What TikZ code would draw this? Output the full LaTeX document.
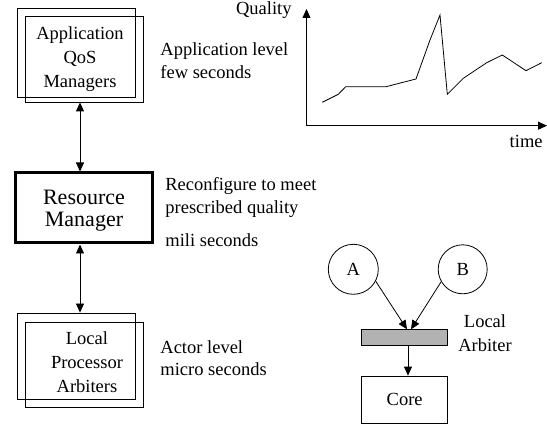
\documentclass[tikz,border=0pt]{standalone}
\usepackage{fontspec}
\setmainfont{Liberation Serif}
\usetikzlibrary{arrows.meta,calc}

\begin{document}
\begin{tikzpicture}[x=1pt,y=-1pt,line width=0.8pt,
  >={Triangle[length=9pt,width=8pt]},
  frame/.style={draw,inner sep=0pt,minimum width=#1},
  txt/.style={inner sep=0pt,font=\fontsize{18.5}{24}\selectfont},
  txtlead/.style={inner sep=0pt,font=\fontsize{18.5}{#1}\selectfont},
  bigtxt/.style={inner sep=0pt,font=\fontsize{22}{22.5}\selectfont},
]
\useasboundingbox (0,0) rectangle (547,427);

% --- application QoS managers (two stacked frames)
\node[frame=118pt,minimum height=89pt] (qosback) at (76,52.5) {};
\node[frame=118pt,minimum height=86pt] (qos) at (84,59) {};
% multi-line nodes: the base anchor sits on the last line
\node[txt,align=center,anchor=base] (qostext) at (80,88) {Application\\QoS\\Managers};

% --- resource manager
\node[frame=137pt,minimum height=70pt,line width=3pt] (rm) at (83.5,208) {};
\node[bigtxt,align=center,anchor=base] (rmtext) at (84,227) {Resource\\Manager};

% --- local processor arbiters (two stacked frames)
\node[frame=118pt,minimum height=86pt] (lpaback) at (76,356) {};
\node[frame=118pt,minimum height=85pt] (lpa) at (84,364.5) {};
\node[txt,align=center,anchor=base] (lpatext) at (87,393) {Local\\Processor\\Arbiters};

% --- vertical links
\draw[<->] (qos.south -| qostext) -- (rm.north -| qostext);
\draw[<->] (rm.south -| qostext) -- (lpaback.north -| qostext);

% --- level annotations
\node[txtlead=23,align=left,anchor=base west] (lvlapp) at (160,79) {Application level\\few seconds};
\node[txtlead=22.5,align=left,anchor=base west] (lvlrm) at (165,213.5) {Reconfigure to meet\\prescribed quality};
\node[txt,anchor=base west] (lvlms) at (165,247) {mili seconds};
\node[txtlead=22,align=left,anchor=base west] (lvlact) at (160,376) {Actor level\\micro seconds};

% --- quality over time
\coordinate (o) at (306.5,125.7);
\coordinate (ytop) at (306.5,9);
\coordinate (xend) at (547,125.7);
\draw[->] (o) -- (ytop);
\draw[->] (o) -- (xend);
\node[txt,anchor=base east] (qlab) at (292,15) {Quality};
\node[txt,anchor=base east] (tlab) at (543,148) {time};
\draw[line join=miter] (322.3,102.3) -- (338.3,94.3) -- (345.7,86.7) -- (386,86.7)
  -- (416,79) -- (430,40) -- (440,15) -- (447.3,94.3) -- (463.3,78.3)
  -- (486.7,62.7) -- (502.3,55) -- (526,70.7) -- (541.7,62.7);

% --- actors, arbiter and core
\node[draw,circle,minimum size=50pt,inner sep=0pt,txt] (A) at (353.3,269.3) {A};
\node[draw,circle,minimum size=49pt,inner sep=0pt,txt] (B) at (462.7,269.3) {B};
\node[frame=86pt,minimum height=15.7pt,fill=black!30] (bar) at (404.7,337.2) {};
\node[frame=86pt,minimum height=47.3pt,txt] (core) at (404.7,399.7) {Core};
\node[txt,align=center,anchor=base] (arblab) at (485,352) {Local\\Arbiter};

\coordinate (ina) at (407,329.3);
\coordinate (inb) at (411,329.3);
\coordinate (dn) at (408,0);
\draw[->] (A.-28) -- (ina);
\draw[->] (B.210) -- (inb);
\draw[->] (bar.south -| dn) -- (core.north -| dn);
\end{tikzpicture}
\end{document}
